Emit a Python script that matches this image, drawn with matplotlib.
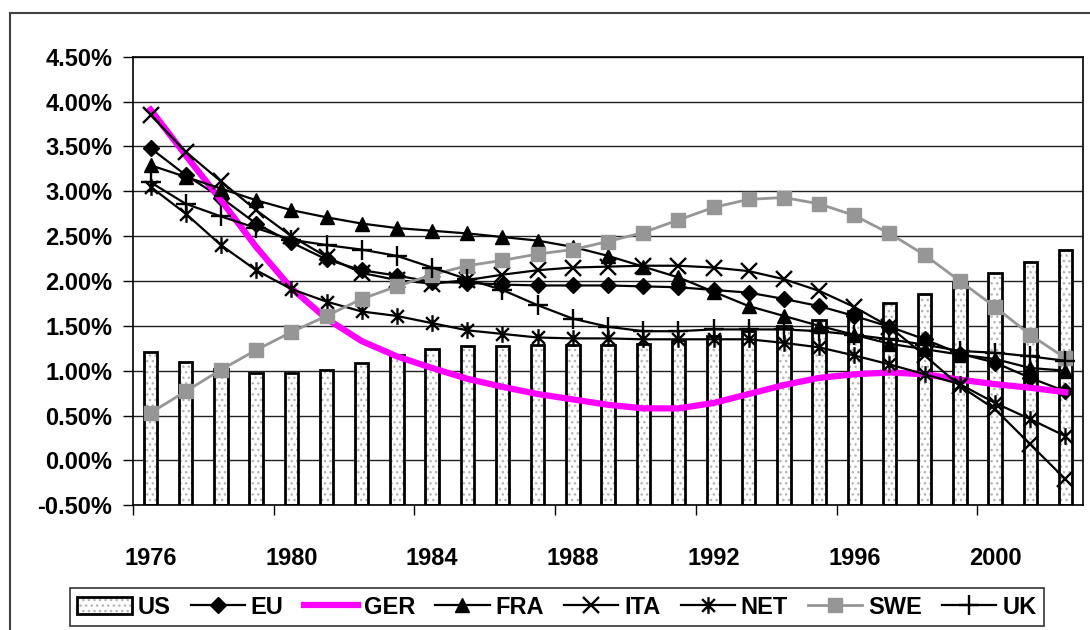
import numpy as np
import matplotlib
matplotlib.use("Agg")
import matplotlib.pyplot as plt
from matplotlib.path import Path
from matplotlib.patches import Rectangle
from matplotlib.ticker import FuncFormatter, FixedLocator

plt.rcParams['font.family'] = ['Liberation Sans', 'DejaVu Sans']
plt.rcParams['font.weight'] = 'bold'
plt.rcParams['hatch.linewidth'] = 1.0

years = list(range(1976, 2003))
tick_years = [1976, 1980, 1984, 1988, 1992, 1996, 2000]

# values in percent
us = [1.21, 1.10, 1.02, 0.97, 0.97, 1.01, 1.09, 1.17, 1.24, 1.27, 1.28, 1.29, 1.29, 1.29,
      1.30, 1.34, 1.39, 1.44, 1.50, 1.57, 1.66, 1.76, 1.86, 1.98, 2.09, 2.21, 2.35]
eu = [3.48, 3.18, 2.93, 2.64, 2.43, 2.24, 2.12, 2.06, 1.99, 1.98, 1.96, 1.95, 1.95, 1.95,
      1.94, 1.93, 1.90, 1.87, 1.80, 1.72, 1.61, 1.49, 1.35, 1.19, 1.09, 0.92, 0.77]
ger = [3.91, 3.40, 2.90, 2.38, 1.92, 1.58, 1.33, 1.16, 1.03, 0.91, 0.82, 0.74, 0.68, 0.62,
       0.58, 0.58, 0.64, 0.74, 0.84, 0.92, 0.96, 0.98, 0.96, 0.90, 0.85, 0.81, 0.76]
fra = [3.29, 3.16, 3.03, 2.90, 2.79, 2.71, 2.64, 2.59, 2.56, 2.53, 2.49, 2.45, 2.38, 2.28,
       2.16, 2.04, 1.88, 1.72, 1.61, 1.50, 1.40, 1.30, 1.24, 1.18, 1.13, 1.03, 1.00]
ita = [3.85, 3.44, 3.11, 2.79, 2.50, 2.27, 2.09, 2.01, 1.97, 2.01, 2.07, 2.12, 2.15, 2.16,
       2.17, 2.17, 2.15, 2.11, 2.02, 1.89, 1.71, 1.49, 1.17, 0.83, 0.57, 0.18, -0.21]
net = [3.05, 2.75, 2.40, 2.12, 1.91, 1.77, 1.66, 1.61, 1.53, 1.45, 1.41, 1.37, 1.36, 1.36,
       1.35, 1.35, 1.35, 1.35, 1.31, 1.26, 1.17, 1.07, 0.96, 0.85, 0.64, 0.46, 0.27]
swe = [0.53, 0.77, 1.01, 1.23, 1.43, 1.61, 1.80, 1.94, 2.07, 2.17, 2.23, 2.30, 2.35, 2.44,
       2.54, 2.68, 2.82, 2.91, 2.93, 2.86, 2.73, 2.53, 2.29, 2.00, 1.71, 1.40, 1.14]
uk = [3.10, 2.86, 2.72, 2.59, 2.46, 2.40, 2.35, 2.28, 2.15, 2.02, 1.90, 1.73, 1.58, 1.49,
      1.44, 1.44, 1.46, 1.46, 1.46, 1.44, 1.40, 1.35, 1.29, 1.22, 1.20, 1.16, 1.11]

x = np.arange(len(years))
ymin, ymax = -0.5, 4.5

fig = plt.figure(figsize=(10.9, 6.3), dpi=100)
ax = fig.add_axes([0.122, 0.198, 0.8716, 0.712])

# outer chart frame
fig.patches.append(Rectangle((0.0092, -0.05), 1.1, 0.979 + 0.05, transform=fig.transFigure,
                             fill=False, edgecolor='#404040', linewidth=1.5))

# US bars start from the axis minimum
us_h = np.array(us) - ymin
b1 = ax.bar(x, us_h, bottom=ymin, width=0.38, color='white', edgecolor='#b4b4b4',
            hatch='...', linewidth=0, zorder=2)
b2 = ax.bar(x, us_h, bottom=ymin, width=0.38, fill=False, edgecolor='black',
            linewidth=2, zorder=2.1)

# asterisk marker: x with a vertical bar
ast = Path([(-1, -1), (1, 1), (-1, 1), (1, -1), (0, -1.3), (0, 1.3)],
           [Path.MOVETO, Path.LINETO, Path.MOVETO, Path.LINETO, Path.MOVETO, Path.LINETO])

lw = 1.6
l_eu, = ax.plot(x, eu, color='black', lw=lw, marker='D', ms=8.5, zorder=3)
l_ger, = ax.plot(x, ger, color='#ff00ff', lw=4.5, zorder=3)
l_fra, = ax.plot(x, fra, color='black', lw=lw, marker='^', ms=10.5, zorder=3)
l_ita, = ax.plot(x, ita, color='black', lw=lw, marker='x', ms=12, mew=1.7, zorder=3)
l_net, = ax.plot(x, net, color='black', lw=lw, marker=ast, ms=12, mew=1.7,
                 mfc='none', zorder=3)
l_swe, = ax.plot(x, swe, color='#969696', lw=2, marker='s', ms=9.5, zorder=3)
l_uk, = ax.plot(x, uk, color='black', lw=lw, marker='+', ms=14, mew=1.7, zorder=3)

ax.set_xlim(-0.5, len(years) - 0.5)
ax.set_ylim(ymin, ymax)
ax.set_yticks(np.arange(-0.5, 4.51, 0.5))
ax.yaxis.set_major_formatter(FuncFormatter(lambda v, p: '%.2f%%' % v))
ax.yaxis.grid(True, color='#202020', lw=1)
ax.set_axisbelow(True)

ax.set_xticks([years.index(y) for y in tick_years])
ax.set_xticklabels([str(y) for y in tick_years])
ax.xaxis.set_minor_locator(FixedLocator(np.arange(-0.5, len(years), 4)))
ax.tick_params(axis='x', which='major', length=0, pad=30, labelsize=17)
ax.tick_params(axis='x', which='minor', length=7, width=1, direction='out')
ax.tick_params(axis='y', length=7, width=1, direction='out', pad=8, labelsize=17)
for s in ax.spines.values():
    s.set_linewidth(1.2)
    s.set_color('black')

leg = fig.legend([(b1[0], b2[0]), l_eu, l_ger, l_fra, l_ita, l_net, l_swe, l_uk],
                 ['US', 'EU', 'GER', 'FRA', 'ITA', 'NET', 'SWE', 'UK'],
                 loc='center', bbox_to_anchor=(0.511, 0.0365), ncol=8,
                 frameon=True, fancybox=False, edgecolor='black',
                 handlelength=2.3, handletextpad=0.25, columnspacing=0.85,
                 borderpad=0.3, borderaxespad=0, prop={'weight': 'bold', 'size': 17})
leg.get_frame().set_linewidth(1.2)

fig.savefig('out.png', dpi=100)
